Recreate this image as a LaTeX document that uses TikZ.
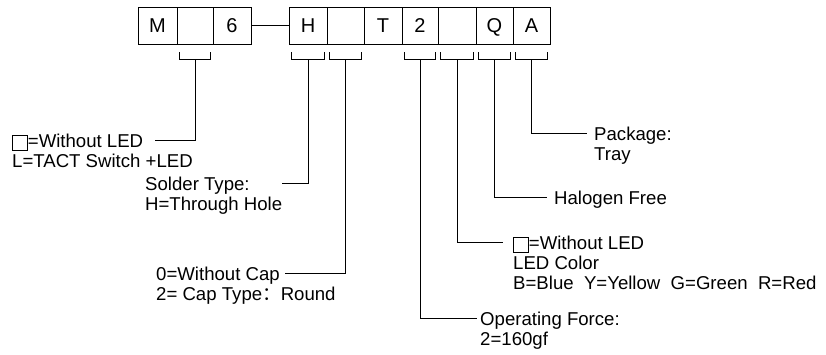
\documentclass[tikz,border=0pt]{standalone}
\usepackage{fontspec}
\setmainfont{Liberation Sans}
\newfontfamily\cjkfont{Noto Sans CJK SC}
\usetikzlibrary{calc}
\newcommand{\sqbox}{\raisebox{-3pt}{\fboxsep=0pt\fboxrule=0.7pt\fbox{\rule{0pt}{14.3pt}\hspace{14.3pt}}}}
\begin{document}
\begin{tikzpicture}[x=1pt,y=-1pt,
  cell/.style={draw, line width=0.9pt, minimum height=37pt, inner sep=0pt,
    text height=14.3pt, text depth=0pt, font=\fontsize{20}{22}\selectfont},
  lbl/.style={anchor=base west, align=left, inner sep=0pt, font=\fontsize{18.6}{20}\selectfont},
  conn/.style={line width=0.9pt}]
\useasboundingbox (0,0) rectangle (826,354);
% code boxes
\node[cell, minimum width=39pt] (bM) at (157.5,25.5) {M};
\node[cell, minimum width=36pt] (b2) at (195,25.5) {};
\node[cell, minimum width=38pt] (b6) at (232,25.5) {6};
\node[cell, minimum width=38pt] (bH) at (308,25.5) {H};
\node[cell, minimum width=37pt] (bC) at (345.5,25.5) {};
\node[cell, minimum width=38pt] (bT) at (383,25.5) {T};
\node[cell, minimum width=36pt] (bF) at (420,25.5) {2};
\node[cell, minimum width=38pt] (bL) at (457,25.5) {};
\node[cell, minimum width=37pt] (bQ) at (494.5,25.5) {Q};
\node[cell, minimum width=37pt] (bA) at (531.5,25.5) {A};
\draw[conn] (b6.east) -- (bH.west);
% brackets
\foreach \b in {b2,bH,bC,bF,bL,bQ,bA}{
  \draw[conn] ($(\b.south west)+(3,8)$) -- ($(\b.south west)+(3,15)$)
     -- ($(\b.south east)+(-3,15)$) -- ($(\b.south east)+(-3,8)$);
}
% line end coordinates
\coordinate (e2) at (155,140);
\coordinate (eH) at (282,183);
\coordinate (eC) at (285,273);
\coordinate (eF) at (477,318);
\coordinate (eL) at (503,242);
\coordinate (eQ) at (547,197);
\coordinate (eA) at (587,133);
% leaders
\foreach \b/\e in {b2/e2,bH/eH,bC/eC,bF/eF,bL/eL,bQ/eQ,bA/eA}{
  \draw[conn] ($(\b.south)+(0,15)$) |- (\e);
}
% labels (anchor is baseline of last line)
\node[lbl] (l2) at (12,167) {\sqbox=Without LED\\L=TACT Switch +LED};
\node[lbl] (lH) at (145,210) {Solder Type:\\H=Through Hole};
\node[lbl] (lC) at (156,300) {0=Without Cap\\2= Cap Type{\cjkfont ：}Round};
\node[lbl] (lF) at (480,345) {Operating Force:\\2=160gf};
\node[lbl] (lL) at (513,289) {\sqbox=Without LED\\LED Color\\B=Blue\ \ Y=Yellow\ \ G=Green\ \ R=Red};
\node[lbl] (lQ) at (554,204) {Halogen Free};
\node[lbl] (lA) at (594,160) {Package:\\Tray};
\end{tikzpicture}
\end{document}
